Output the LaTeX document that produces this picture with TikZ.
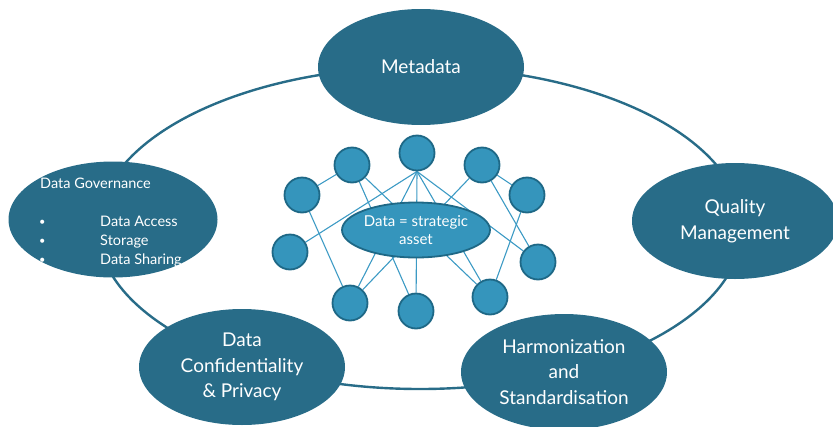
\documentclass[tikz,border=0pt]{standalone}
\usepackage{fontspec}
\setmainfont{Lato}
\usetikzlibrary{shapes.geometric}
\pgfdeclarelayer{bg}
\pgfsetlayers{bg,main}
\definecolor{dteal}{RGB}{40,108,136}
\definecolor{lblue}{RGB}{53,149,188}
\definecolor{lborder}{RGB}{30,104,134}
\definecolor{lline}{RGB}{60,154,196}
\begin{document}
\begin{tikzpicture}[x=1pt,y=-1pt,
  bigell/.style={ellipse, fill=dteal, text=white, inner sep=0pt,
    minimum width=206pt, minimum height=116pt, align=center,
    font=\fontsize{19}{25.5}\selectfont},
  dot/.style={circle, fill=lblue, draw=lborder, line width=1.8pt,
    minimum size=35pt, inner sep=0pt},
  hub/.style={ellipse, fill=lblue, draw=lborder, line width=1.8pt,
    minimum width=148pt, minimum height=55pt, inner sep=0pt, text=white,
    align=center, font=\fontsize{15}{18.5}\selectfont},
  link/.style={draw=lline, line width=1.1pt},
  ring/.style={draw=dteal, line width=2.4pt},
  smalltxt/.style={text=white, inner sep=0pt, anchor=base west,
    font=\fontsize{14.5}{18}\selectfont}]
\useasboundingbox (0,0) rectangle (833,426);
\clip (0,0) rectangle (833,426);

% big ellipses
\node[bigell] (meta) at (421,67) {Metadata};
\node[bigell] (qual) at (735,221) {Quality\\Management};
\node[bigell] (harm) at (564,372) {Harmonization\\and\\Standardisation};
\node[bigell] (conf) at (242,367) {Data\\Confidentiality\\\& Privacy};
\node[bigell, minimum width=209pt] (gov) at (113,219.5) {};
\node[smalltxt] (govt) at (40,188) {Data Governance};
\node[smalltxt, font=\fontsize{11}{14}\selectfont] (b1) at (39,225) {•};
\node[smalltxt, font=\fontsize{11}{14}\selectfont] (b2) at (39,244) {•};
\node[smalltxt, font=\fontsize{11}{14}\selectfont] (b3) at (39,263) {•};
\node[smalltxt] (i1) at (100,226) {Data Access};
\node[smalltxt] (i2) at (100,245) {Storage};
\node[smalltxt] (i3) at (100,264) {Data Sharing};

% network
\node[dot] (c1) at (302,195) {};
\node[dot] (c2) at (352,165) {};
\node[dot] (c3) at (417,153) {};
\node[dot] (c4) at (482,165) {};
\node[dot] (c5) at (527,195) {};
\node[dot] (c6) at (290,252) {};
\node[dot] (c7) at (538,262) {};
\node[dot] (c8) at (350,303) {};
\node[dot] (c9) at (416,311) {};
\node[dot] (c10) at (490,297) {};
\node[hub] (hubn) at (416,230) {Data = strategic\\asset};

\begin{pgfonlayer}{bg}
  \node[ellipse, ring, minimum width=644pt, minimum height=322pt, inner sep=0pt] (ringn) at (420,228) {};
  \draw[link] (c1) -- (c2);
  \draw[link] (c1) -- (c8);
  \draw[link] (c2) -- (c9);
  \draw[link] (c2) -- (c10);
  \draw[link] (c3.south) -- (c6);
  \draw[link] (c3.south) -- (c8);
  \draw[link] (c3.south) -- (c9);
  \draw[link] (c3.south) -- (c10);
  \draw[link] (c3.south) -- (c7);
  \draw[link] (c4) -- (c8);
  \draw[link] (c4) -- (c7);
  \draw[link] (c4) -- (c5);
  \draw[link] (c5) -- (c10);
\end{pgfonlayer}
\end{tikzpicture}
\end{document}
